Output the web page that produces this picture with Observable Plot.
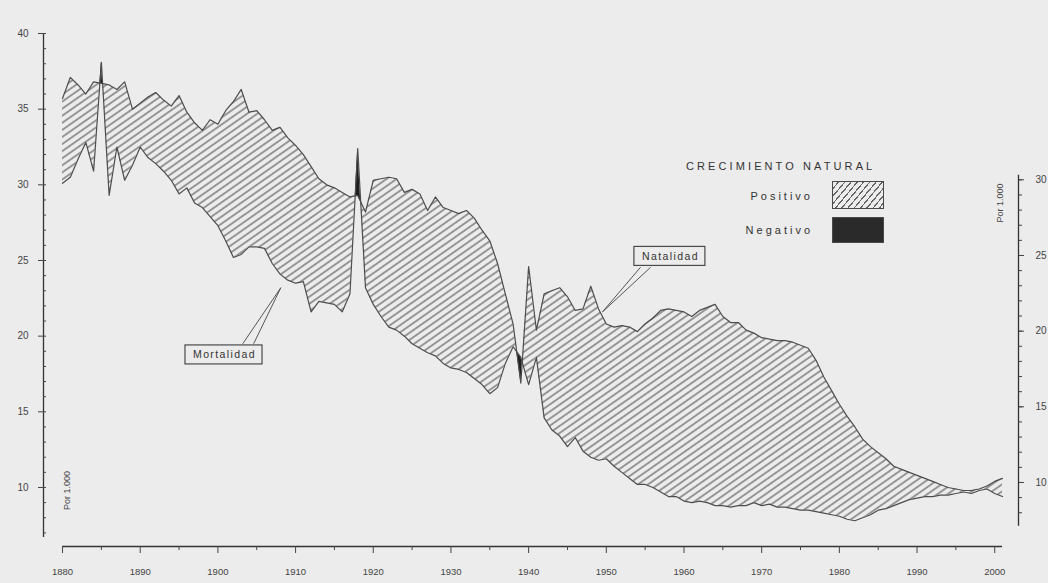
<!DOCTYPE html>
<html>
<head>
<meta charset="utf-8">
<script src="https://cdn.jsdelivr.net/npm/d3@7"></script>
<script src="https://cdn.jsdelivr.net/npm/@observablehq/plot@0.6"></script>
<style>
  html, body { margin: 0; padding: 0; background: #ececec; }
  #wrap { position: relative; width: 1048px; height: 583px; overflow: hidden;
          font-family: "Liberation Sans", Arial, sans-serif; color: #333; }
  #wrap svg { display: block; }
  .lg { position: absolute; font-size: 11px; line-height: 13px; white-space: nowrap; color: #333; }
  .box { position: absolute; box-sizing: border-box; border: 1px solid #4a4a4a; }
</style>
</head>
<body>
<div id="wrap"></div>
<script>
// ---------------- DATA (per 1.000 habitantes) ----------------
const startYear = 1880;
const natalidad = [
  35.7, 37.1, 36.6, 36.0, 36.8, 36.7, 36.6, 36.3, 36.8, 35.0,   // 1880-1889
  35.4, 35.8, 36.1, 35.6, 35.2, 35.9, 34.8, 34.1, 33.6, 34.3,   // 1890-1899
  34.0, 34.9, 35.5, 36.3, 34.8, 34.9, 34.3, 33.6, 33.8, 33.1,   // 1900-1909
  32.6, 32.0, 31.2, 30.4, 30.0, 29.8, 29.5, 29.2, 29.3, 28.2,   // 1910-1919
  30.3, 30.4, 30.5, 30.4, 29.5, 29.7, 29.4, 28.3, 29.2, 28.5,   // 1920-1929
  28.3, 28.1, 28.3, 27.8, 27.0, 26.3, 24.8, 22.8, 20.8, 16.9,   // 1930-1939
  24.6, 20.4, 22.8, 23.0, 23.2, 22.6, 21.7, 21.8, 23.3, 21.8,   // 1940-1949
  20.8, 20.6, 20.7, 20.6, 20.3, 20.8, 21.2, 21.7, 21.8, 21.7,   // 1950-1959
  21.6, 21.3, 21.7, 21.9, 22.1, 21.3, 20.9, 20.9, 20.4, 20.2,   // 1960-1969
  19.9, 19.8, 19.7, 19.7, 19.6, 19.4, 19.2, 18.4, 17.3, 16.4,   // 1970-1979
  15.5, 14.7, 14.0, 13.2, 12.7, 12.3, 11.9, 11.4, 11.2, 11.0,   // 1980-1989
  10.8, 10.6, 10.4, 10.2, 10.0, 9.9, 9.8, 9.8, 9.9, 10.1,       // 1990-1999
  10.4, 10.6                                                    // 2000-2001
];
const mortalidad = [
  30.1, 30.5, 31.7, 32.8, 30.9, 38.1, 29.3, 32.5, 30.3, 31.3,   // 1880-1889
  32.5, 31.8, 31.4, 30.9, 30.3, 29.4, 29.8, 28.8, 28.5, 27.9,   // 1890-1899
  27.3, 26.3, 25.2, 25.4, 25.9, 25.9, 25.8, 24.8, 24.1, 23.7,   // 1900-1909
  23.5, 23.6, 21.6, 22.3, 22.2, 22.1, 21.6, 22.8, 32.4, 23.2,   // 1910-1919
  22.1, 21.3, 20.6, 20.4, 20.0, 19.5, 19.2, 18.9, 18.7, 18.2,   // 1920-1929
  17.9, 17.8, 17.6, 17.2, 16.8, 16.2, 16.6, 18.2, 19.3, 18.6,   // 1930-1939
  16.8, 18.6, 14.6, 13.8, 13.4, 12.7, 13.3, 12.4, 12.0, 11.8,   // 1940-1949
  11.9, 11.4, 11.0, 10.6, 10.2, 10.2, 10.0, 9.7, 9.4, 9.4,      // 1950-1959
  9.1, 9.0, 9.1, 9.0, 8.8, 8.8, 8.7, 8.8, 8.8, 9.0,             // 1960-1969
  8.8, 8.9, 8.7, 8.7, 8.6, 8.5, 8.5, 8.4, 8.3, 8.2,             // 1970-1979
  8.1, 7.9, 7.8, 8.0, 8.2, 8.5, 8.6, 8.8, 9.0, 9.2,             // 1980-1989
  9.3, 9.4, 9.4, 9.5, 9.5, 9.6, 9.7, 9.6, 9.8, 9.9,             // 1990-1999
  9.6, 9.4                                                      // 2000-2001
];
const xTicksMajor = [1880, 1890, 1900, 1910, 1920, 1930, 1940, 1950, 1960, 1970, 1980, 1990, 2000];
const xTicksMinor = [1885, 1895, 1905, 1915, 1925, 1935, 1945, 1955, 1965, 1975, 1985, 1995];
const yLeftMajor = [10, 15, 20, 25, 30, 35, 40];
const yRightMajor = [10, 15, 20, 25, 30];
const callouts = [
  {label: "Natalidad", year: 1958.25, value: 25.26},
  {label: "Mortalidad", year: 1900.85, value: 18.75}
];
const leaders = [
  {x1: 1954.4, y1: 24.55, x2: 1949.5, y2: 21.6},
  {x1: 1955.7, y1: 24.55, x2: 1949.5, y2: 21.6},
  {x1: 1903.2, y1: 19.5, x2: 1908.1, y2: 23.2},
  {x1: 1904.6, y1: 19.5, x2: 1908.1, y2: 23.2}
];
const unitLabels = [
  {text: "Por 1.000", year: 1880.6, value: 9.8},
  {text: "Por 1.000", year: 2000.7, value: 28.8}
];

// ---------------- derived tables ----------------
const rows = natalidad.map((b, i) => ({year: startYear + i, birth: b, death: mortalidad[i]}));
// geometry for the positive / negative fills (insert the exact crossing points)
const pts = [];
for (let i = 0; i < rows.length; i++) {
  const r = rows[i];
  pts.push({year: r.year, b: r.birth, d: r.death});
  if (i < rows.length - 1) {
    const s = rows[i + 1];
    const d0 = r.birth - r.death, d1 = s.birth - s.death;
    if (d0 * d1 < 0) {
      const t = d0 / (d0 - d1);
      const v = r.death + t * (s.death - r.death);
      pts.push({year: r.year + t, b: v, d: v});
    }
  }
}

const xLeft = 1877.55, xRight = 2003.06;
const lineColor = "#4d4d4d";
const calloutNames = new Set(callouts.map(c => c.label));

const chart = Plot.plot({
  width: 1048,
  height: 583,
  marginLeft: 43,
  marginRight: 30,
  marginTop: 33,
  marginBottom: 37,
  x: {domain: [xLeft, xRight], label: null},
  y: {domain: [6.1, 40], label: null},
  style: {background: "#ececec", fontFamily: "'Liberation Sans', Arial, sans-serif", fontSize: "10px", color: "#444"},
  marks: [
    // fills
    Plot.areaY(pts, {x: "year", y1: "d", y2: p => Math.max(p.b, p.d), fill: "url(#hatch)", curve: "linear"}),
    Plot.areaY(pts, {x: "year", y1: "b", y2: p => Math.max(p.b, p.d), fill: "#1f1f1f", curve: "linear"}),
    // lines
    Plot.line(rows, {x: "year", y: "birth", stroke: lineColor, strokeWidth: 1.2}),
    Plot.line(rows, {x: "year", y: "death", stroke: lineColor, strokeWidth: 1.2}),
    // axis lines
    Plot.ruleX([xLeft], {y1: 6.7, y2: 40, stroke: "#333", strokeWidth: 1.3}),
    Plot.ruleX([xRight], {y1: 7.1, y2: 30.3, dy: -5, stroke: "#333", strokeWidth: 1.3}),
    Plot.ruleY([6.1], {x1: 1880, x2: 2001, stroke: "#333", strokeWidth: 1.3}),
    // left axis
    Plot.axisY(yLeftMajor, {anchor: "left", tickSize: 5, tickPadding: 10, label: null, fontSize: 10}),
    Plot.axisY(d3.range(7, 41), {anchor: "left", tickSize: -3, tickFormat: () => "", label: null}),
    // right axis
    Plot.axisY(yRightMajor, {anchor: "right", tickSize: 5, tickPadding: 12, dy: -5, label: null, fontSize: 10}),
    Plot.axisY(d3.range(8, 31), {anchor: "right", tickSize: 3, tickFormat: () => "", dy: -5, label: null}),
    // x axis
    Plot.axisX(xTicksMajor, {anchor: "bottom", tickSize: 7, tickPadding: 15, tickFormat: d => String(d), label: null, fontSize: 9.5}),
    Plot.axisX(xTicksMinor, {anchor: "bottom", tickSize: 4, tickFormat: () => "", label: null}),
    // unit labels
    Plot.text(unitLabels, {x: "year", y: "value", text: "text", rotate: -90, fontSize: 9, fill: "#444"}),
    // callouts
    Plot.link(leaders, {x1: "x1", y1: "y1", x2: "x2", y2: "y2", stroke: "#555", strokeWidth: 1}),
    Plot.text(callouts, {x: "year", y: "value", text: "label", fontSize: 10.5, fill: "#333"})
  ]
});

const wrap = document.getElementById("wrap");
wrap.appendChild(chart);

// hatch pattern
const ns = "http://www.w3.org/2000/svg";
const defs = document.createElementNS(ns, "defs");
defs.innerHTML = '<pattern id="hatch" patternUnits="userSpaceOnUse" width="10" height="5.8" patternTransform="rotate(-35)">' +
  '<rect width="10" height="5.8" fill="#ececec"/>' +
  '<line x1="0" y1="2.9" x2="10" y2="2.9" stroke="#6a6a6a" stroke-width="1.3"/></pattern>';
chart.insertBefore(defs, chart.firstChild);

// boxes around the callout texts
Array.from(chart.querySelectorAll("text"))
  .filter(t => calloutNames.has(t.textContent.trim()))
  .forEach(t => {
    t.setAttribute("letter-spacing", "1.4");
    const bb = t.getBBox();
    const r = document.createElementNS(ns, "rect");
    r.setAttribute("x", bb.x - 8);
    r.setAttribute("y", bb.y - 3.5);
    r.setAttribute("width", bb.width + 14);
    r.setAttribute("height", bb.height + 7);
    r.setAttribute("fill", "#ececec");
    r.setAttribute("stroke", "#4a4a4a");
    r.setAttribute("stroke-width", "1.2");
    const tr = t.getAttribute("transform");
    if (tr) r.setAttribute("transform", tr);
    t.parentNode.insertBefore(r, t);
  });

// legend (inside the chart area)
const legend = [
  ['lg', 'CRECIMIENTO NATURAL', 'left:686px;top:160px;letter-spacing:3.1px;'],
  ['lg', 'Positivo', 'left:700px;width:113px;text-align:right;top:190px;letter-spacing:3px;'],
  ['lg', 'Negativo', 'left:700px;width:113px;text-align:right;top:224px;letter-spacing:3px;']
];
legend.forEach(([cls, txt, css]) => {
  const d = document.createElement("div");
  d.className = cls; d.textContent = txt; d.style.cssText = css;
  wrap.appendChild(d);
});
const pos = document.createElement("div");
pos.className = "box";
pos.style.cssText = "left:832px;top:181px;width:52px;height:28px;background:repeating-linear-gradient(130deg,#ececec 0px,#ececec 3.6px,#666 3.6px,#666 4.8px);";
wrap.appendChild(pos);
const neg = document.createElement("div");
neg.className = "box";
neg.style.cssText = "left:832px;top:217px;width:52px;height:26px;background:#2a2a2a;";
wrap.appendChild(neg);
</script>
</body>
</html>
